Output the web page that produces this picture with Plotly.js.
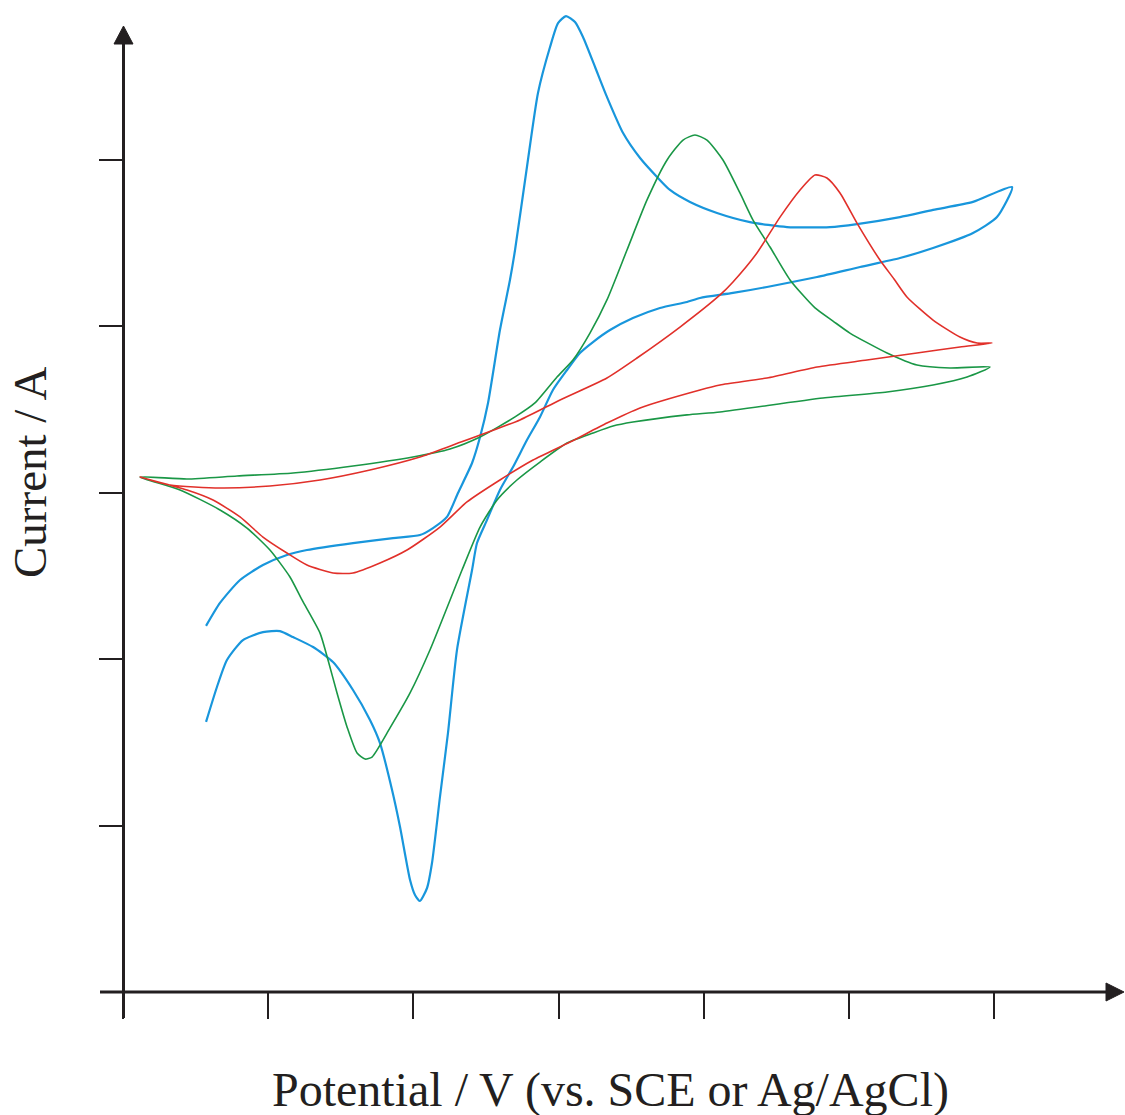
<!DOCTYPE html>
<html>
<head>
<meta charset="utf-8">
<script src="https://cdn.plot.ly/plotly-3.0.1.min.js"></script>
<style>html,body{margin:0;padding:0;background:#fff;}#chart{width:1125px;height:1115px;}</style>
</head>
<body>
<div id="chart"></div>
<script>
// ---- Data (arbitrary units: x in potential tick units, y in current tick units) ----
const blueX = [0.572,0.668,0.806,0.964,1.129,1.267,1.584,1.860,2.045,2.135,2.231,2.307,2.404,2.459,2.514,2.596,2.665,2.700,2.782,2.858,2.941,2.996,3.051,3.113,3.168,3.251,3.333,3.444,3.561,3.678,3.767,3.905,4.091,4.318,4.573,4.869,5.055,5.351,5.579,5.854,6.123,
  6.019,5.854,5.579,5.351,5.076,4.780,4.435,4.201,3.974,3.884,3.698,3.512,3.354,3.237,3.147,3.058,2.961,2.872,2.782,2.686,2.596,2.507,2.438,2.404,2.300,2.238,2.183,2.128,2.094,2.045,2.011,1.977,1.908,1.853,1.770,1.701,1.584,1.446,1.309,1.171,1.081,0.964,0.826,0.716,0.647,0.572];
const blueY = [2.200,2.338,2.476,2.566,2.626,2.656,2.698,2.728,2.746,2.788,2.855,2.999,3.179,3.335,3.540,3.978,4.279,4.459,4.958,5.403,5.679,5.823,5.865,5.829,5.739,5.559,5.379,5.162,5.012,4.898,4.820,4.748,4.682,4.627,4.597,4.597,4.615,4.657,4.700,4.748,4.838,
  4.657,4.561,4.471,4.411,4.357,4.297,4.237,4.201,4.171,4.147,4.111,4.050,3.978,3.906,3.840,3.738,3.618,3.456,3.317,3.155,3.017,2.837,2.698,2.536,2.055,1.556,1.172,0.775,0.625,0.547,0.583,0.673,0.992,1.214,1.496,1.635,1.815,1.983,2.073,2.133,2.169,2.163,2.115,1.995,1.833,1.623];

const greenX = [0.117,0.441,0.785,1.171,1.584,1.997,2.252,2.459,2.700,2.837,2.989,3.099,3.216,3.333,3.471,3.609,3.747,3.857,3.939,4.022,4.132,4.249,4.339,4.456,4.594,4.766,4.890,5.006,5.262,5.468,5.696,5.971,
  5.813,5.579,5.262,4.821,4.112,3.884,3.512,3.375,3.237,3.058,2.872,2.713,2.576,2.459,2.335,2.114,1.977,1.839,1.715,1.667,1.612,1.543,1.474,1.412,1.357,1.233,1.150,1.012,0.854,0.668,0.393,0.117];
const greenY = [3.095,3.083,3.101,3.119,3.161,3.215,3.263,3.335,3.456,3.540,3.696,3.798,3.960,4.159,4.459,4.760,5.000,5.120,5.150,5.120,5.000,4.802,4.639,4.477,4.279,4.111,4.032,3.960,3.840,3.768,3.750,3.756,
  3.696,3.648,3.606,3.570,3.486,3.468,3.425,3.401,3.359,3.299,3.185,3.077,2.957,2.794,2.536,2.055,1.797,1.587,1.412,1.400,1.436,1.593,1.797,1.995,2.157,2.356,2.494,2.656,2.788,2.897,3.017,3.095];

const redX = [0.117,0.324,0.668,1.012,1.357,1.701,2.045,2.273,2.734,3.010,3.333,3.540,3.836,4.112,4.201,4.366,4.525,4.663,4.766,4.848,4.938,5.055,5.213,5.310,5.399,5.579,5.764,5.882,5.985,
  5.764,5.468,5.124,4.780,4.435,4.112,3.974,3.561,3.333,3.079,2.824,2.596,2.369,2.183,1.956,1.770,1.584,1.446,1.267,1.129,0.964,0.806,0.620,0.441,0.117];
const redY = [3.095,3.047,3.029,3.041,3.077,3.137,3.215,3.287,3.438,3.558,3.690,3.810,3.996,4.189,4.267,4.441,4.657,4.820,4.910,4.892,4.802,4.621,4.399,4.285,4.177,4.038,3.936,3.900,3.900,
  3.876,3.840,3.798,3.756,3.690,3.648,3.618,3.510,3.419,3.305,3.197,3.077,2.945,2.794,2.656,2.578,2.518,2.518,2.566,2.638,2.734,2.855,2.957,3.017,3.095];

const xTicks = [0,1,2,3,4,5,6];
const yTicks = [1,2,3,4,5];

// ---- Layout helpers (pixel -> paper) ----
const W = 1125, H = 1115, ML = 123, MR = 0, MT = 8, MB = 123;
const PW = W - ML - MR, PH = H - MT - MB;
const px = p => (p - ML) / PW;
const py = p => (H - MB - p) / PH;
const axisColor = '#231f20';

const traces = [
  {x: blueX, y: blueY, mode: 'lines', line: {color: '#1896dc', width: 2.2, shape: 'spline', smoothing: 0.6}, hoverinfo: 'skip'},
  {x: greenX, y: greenY, mode: 'lines', line: {color: '#1a9746', width: 1.6, shape: 'spline', smoothing: 0.6}, hoverinfo: 'skip'},
  {x: redX, y: redY, mode: 'lines', line: {color: '#e1302a', width: 1.6, shape: 'spline', smoothing: 0.6}, hoverinfo: 'skip'}
];

const layout = {
  width: W, height: H,
  margin: {l: ML, r: MR, t: MT, b: MB},
  paper_bgcolor: '#ffffff', plot_bgcolor: '#ffffff',
  showlegend: false,
  font: {family: 'Liberation Serif, Times New Roman, serif', color: axisColor},
  xaxis: {range: [0, PW / 145.2], showline: false, zeroline: false, showgrid: false,
          tickmode: 'array', tickvals: xTicks, ticks: 'outside', ticklen: 26, tickwidth: 2,
          tickcolor: axisColor, showticklabels: false, fixedrange: true},
  yaxis: {range: [0, PH / 166.4], showline: false, zeroline: false, showgrid: false,
          tickmode: 'array', tickvals: yTicks, ticks: 'outside', ticklen: 23, tickwidth: 2,
          tickcolor: axisColor, showticklabels: false, fixedrange: true},
  shapes: [
    {type: 'line', xref: 'paper', yref: 'paper', x0: px(100), x1: px(1110), y0: py(992), y1: py(992),
     line: {color: axisColor, width: 3}},
    {type: 'line', xref: 'paper', yref: 'paper', x0: px(123.5), x1: px(123.5), y0: py(1018), y1: py(42),
     line: {color: axisColor, width: 3}},
    {type: 'path', xref: 'paper', yref: 'paper',
     path: `M ${px(1124)} ${py(992)} L ${px(1106)} ${py(983)} L ${px(1106)} ${py(1001)} Z`,
     fillcolor: axisColor, line: {color: axisColor, width: 1}},
    {type: 'path', xref: 'paper', yref: 'paper',
     path: `M ${px(123.5)} ${py(26)} L ${px(114)} ${py(44)} L ${px(133)} ${py(44)} Z`,
     fillcolor: axisColor, line: {color: axisColor, width: 1}}
  ],
  annotations: [
    {text: 'Potential / V (vs. SCE or Ag/AgCl)', xref: 'paper', yref: 'paper', x: px(610), y: py(1090),
     xanchor: 'center', yanchor: 'middle', showarrow: false,
     font: {family: 'Liberation Serif, Times New Roman, serif', size: 48, color: axisColor}},
    {text: 'Current / A', xref: 'paper', yref: 'paper', x: px(30), y: py(472),
     xanchor: 'center', yanchor: 'middle', showarrow: false, textangle: -90,
     font: {family: 'Liberation Serif, Times New Roman, serif', size: 47, color: axisColor}}
  ]
};

Plotly.newPlot('chart', traces, layout, {displayModeBar: false, staticPlot: true});
</script>
</body>
</html>
